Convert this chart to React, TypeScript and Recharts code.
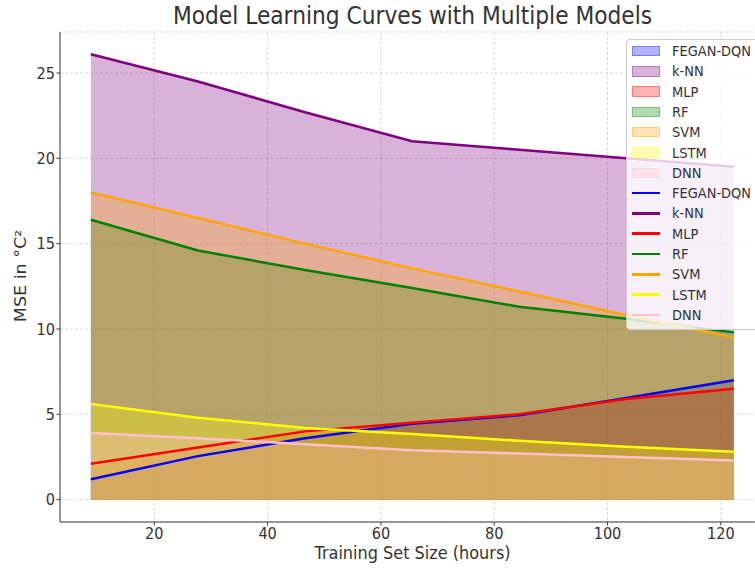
import React from 'react';
import {
  ComposedChart,
  Area,
  Line,
  XAxis,
  YAxis,
  CartesianGrid,
  Legend,
  Customized,
} from 'recharts';

const trainingHours = [8.8, 27.7, 46.6, 65.5, 84.4, 103.3, 122.3];
const feganDqn = [1.2, 2.55, 3.6, 4.45, 4.95, 5.95, 7.0];
const knn = [26.1, 24.5, 22.7, 21.0, 20.5, 20.0, 19.5];
const mlp = [2.1, 3.05, 4.0, 4.5, 5.0, 5.9, 6.5];
const rf = [16.4, 14.6, 13.45, 12.4, 11.3, 10.6, 9.8];
const svm = [18.0, 16.5, 15.0, 13.55, 12.2, 10.8, 9.5];
const lstm = [5.6, 4.8, 4.2, 3.85, 3.45, 3.1, 2.8];
const dnn = [3.9, 3.6, 3.25, 2.9, 2.7, 2.5, 2.3];

const modelNames = ['FEGAN-DQN', 'k-NN', 'MLP', 'RF', 'SVM', 'LSTM', 'DNN'];
const modelColors = ['#0000ff', '#800080', '#ff0000', '#008000', '#ffa500', '#ffff00', '#ffc0cb'];
const modelRgb = ['0,0,255', '128,0,128', '255,0,0', '0,128,0', '255,165,0', '255,255,0', '255,192,203'];
const seriesValues = [feganDqn, knn, mlp, rf, svm, lstm, dnn];

const xTicks = [20, 40, 60, 80, 100, 120];
const yTicks = [0, 5, 10, 15, 20, 25];

const titleText = 'Model Learning Curves with Multiple Models';
const xLabel = 'Training Set Size (hours)';
const yLabel = 'MSE in °C²';

const data = trainingHours.map((x, i) => {
  const row: Record<string, number> = { x };
  modelNames.forEach((n, k) => {
    row[n] = seriesValues[k][i];
  });
  return row;
});

const FONT = 'DejaVu Sans, Verdana, sans-serif';
const TEXT = '#333333';
const SQ = 0.885; // horizontal squeeze of the reference image text

const XTick = (props: any) => {
  const { x, y, payload } = props;
  return (
    <text
      transform={`translate(${x},${y}) scale(${SQ},1)`}
      textAnchor="middle"
      dy="0.71em"
      fontSize={16.4}
      fontFamily={FONT}
      fill={TEXT}
    >
      {payload.value}
    </text>
  );
};

const YTick = (props: any) => {
  const { x, y, payload } = props;
  return (
    <text
      transform={`translate(${x},${y}) scale(${SQ},1)`}
      textAnchor="end"
      dy="0.355em"
      fontSize={16.4}
      fontFamily={FONT}
      fill={TEXT}
    >
      {payload.value}
    </text>
  );
};

const LegendText = ({ c, n }: { c: number; n: string }) => (
  <div
    style={{
      position: 'absolute',
      left: 45,
      top: c - 9,
      height: 18,
      lineHeight: '18px',
      fontSize: 14.7,
      fontFamily: FONT,
      color: TEXT,
      whiteSpace: 'nowrap',
      transform: `scaleX(${SQ})`,
      transformOrigin: 'left center',
    }}
  >
    {n}
  </div>
);

const LegendBox = () => {
  const rowGap = 20.3;
  const first = 11;
  const items: React.ReactNode[] = [];
  modelNames.forEach((n, k) => {
    const c = first + k * rowGap;
    items.push(
      <div key={'p' + n}>
        <div
          style={{
            position: 'absolute',
            left: 5,
            top: c - 5.3,
            width: 28,
            height: 10.6,
            boxSizing: 'border-box',
            background: `rgba(${modelRgb[k]},0.3)`,
            border: `1px solid rgba(${modelRgb[k]},0.3)`,
          }}
        />
        <LegendText c={c} n={n} />
      </div>
    );
  });
  modelNames.forEach((n, k) => {
    const c = first + (k + 7) * rowGap;
    items.push(
      <div key={'l' + n}>
        <div
          style={{
            position: 'absolute',
            left: 5,
            top: c - 1.25,
            width: 28,
            height: 2.5,
            background: modelColors[k],
          }}
        />
        <LegendText c={c} n={n} />
      </div>
    );
  });
  return (
    <div
      style={{
        position: 'relative',
        width: 140,
        height: 291,
        boxSizing: 'border-box',
        border: '1px solid #cccccc',
        borderRadius: 4,
        background: 'rgba(255,255,255,0.8)',
      }}
    >
      {items}
    </div>
  );
};

const Texts = () => (
  <g>
    <text
      transform={`translate(412.5,24) scale(${SQ},1)`}
      textAnchor="middle"
      fontSize={24.6}
      fontFamily={FONT}
      fill={TEXT}
    >
      {titleText}
    </text>
    <text
      transform={`translate(412.5,559) scale(${SQ},1)`}
      textAnchor="middle"
      fontSize={18.2}
      fontFamily={FONT}
      fill={TEXT}
    >
      {xLabel}
    </text>
    <text
      transform={`translate(26,276) rotate(-90) scale(1,${SQ})`}
      textAnchor="middle"
      fontSize={17.5}
      fontFamily={FONT}
      fill={TEXT}
    >
      {yLabel}
    </text>
  </g>
);

export default function App() {
  return (
    <div
      style={{
        position: 'absolute',
        left: 0,
        top: 0,
        width: 755,
        height: 570,
        overflow: 'hidden',
        background: '#ffffff',
      }}
    >
      <ComposedChart
        width={785}
        height={570}
        data={data}
        margin={{ top: 32, right: 20, bottom: 0, left: 0 }}
      >
        <CartesianGrid stroke="#d0d0d0" strokeDasharray="3 2" strokeWidth={0.8} />
        <XAxis
          dataKey="x"
          type="number"
          domain={[3.35, 127.8]}
          ticks={xTicks}
          allowDataOverflow
          height={48}
          tickSize={3.5}
          tickMargin={2}
          stroke="#3a3a3a"
          tick={<XTick />}
        />
        <YAxis
          type="number"
          domain={[-1.31, 27.4]}
          ticks={yTicks}
          allowDataOverflow
          width={60}
          tickSize={3.5}
          tickMargin={1.5}
          stroke="#3a3a3a"
          tick={<YTick />}
        />
        {modelNames.map((n, k) => (
          <Area
            key={'a' + n}
            type="linear"
            dataKey={n}
            baseValue={0}
            fill={modelColors[k]}
            fillOpacity={0.3}
            stroke={modelColors[k]}
            strokeOpacity={0.3}
            strokeWidth={1}
            isAnimationActive={false}
            legendType="none"
            dot={false}
            activeDot={false}
          />
        ))}
        {modelNames.map((n, k) => (
          <Line
            key={'l' + n}
            type="linear"
            dataKey={n}
            stroke={modelColors[k]}
            strokeWidth={2.5}
            dot={false}
            activeDot={false}
            isAnimationActive={false}
            legendType="none"
          />
        ))}
        <Legend
          layout="horizontal"
          verticalAlign="middle"
          align="center"
          wrapperStyle={{ left: 626, top: 39, width: 140, height: 291 }}
          content={() => <LegendBox />}
        />
        <Customized component={() => <Texts />} />
      </ComposedChart>
    </div>
  );
}
